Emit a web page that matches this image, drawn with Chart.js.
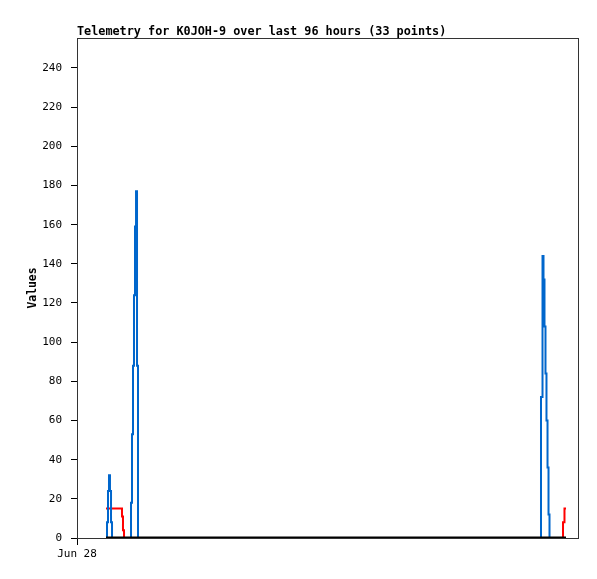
<!DOCTYPE html>
<html>
<head>
<meta charset="utf-8">
<script src="https://cdn.jsdelivr.net/npm/chart.js@4/dist/chart.umd.min.js"></script>
<style>
  body { margin: 0; background: #fff; }
  canvas { display: block; }
</style>
</head>
<body>
<canvas id="chart" width="597" height="579"></canvas>
<script>
// Sample times, hours since Jun 28 00:00
const hours = [5.56, 5.75, 5.94, 6.13, 6.32, 6.52, 6.71, 8.62, 8.81, 9.01,
    10.35, 10.54, 10.73, 10.92, 11.11, 11.31, 11.50, 11.69,
    30.0, 50.0, 70.0,
    88.91, 89.20, 89.39, 89.58, 89.77, 89.96, 90.16, 90.35, 90.54,
    93.13, 93.41, 93.70];
const blueValues = [0, 8, 24, 32, 24, 8, 0, 0, 0, 0,
    18, 53, 88, 124, 159, 177, 88, 0,
    0, 0, 0,
    72, 144, 132, 108, 84, 60, 36, 12, 0,
    0, 0, 0];
const redValues = [15, 15, 15, 15, 15, 15, 15, 11, 4, 0,
    0, 0, 0, 0, 0, 0, 0, 0,
    0, 0, 0,
    0, 0, 0, 0, 0, 0, 0, 0, 0,
    8, 15, 15];
const blackValues = hours.map(() => 0);
const yTicks = [0, 20, 40, 60, 80, 100, 120, 140, 160, 180, 200, 220, 240];
const xTicks = [0];
const xTickLabels = ['Jun 28'];

const FONT = '"DejaVu Sans Mono", monospace';

function toPoints(values) {
    return hours.map((h, i) => ({ x: h, y: values[i] }));
}

// Title and plot frame
const framePlugin = {
    id: 'frame',
    afterDraw(chart) {
        const { ctx, chartArea } = chart;
        ctx.save();
        ctx.strokeStyle = '#333';
        ctx.lineWidth = 1;
        ctx.strokeRect(chartArea.left + 0.5, chartArea.top + 0.5,
            chartArea.right - chartArea.left, chartArea.bottom - chartArea.top);
        ctx.fillStyle = '#000';
        ctx.font = 'bold 11.8px ' + FONT;
        ctx.textAlign = 'left';
        ctx.textBaseline = 'alphabetic';
        ctx.fillText('Telemetry for K0JOH-9 over last 96 hours (33 points)', chartArea.left, chartArea.top - 3);
        ctx.restore();
    }
};

new Chart(document.getElementById('chart'), {
    type: 'line',
    data: {
        datasets: [
            { data: toPoints(blackValues), borderColor: '#000', borderWidth: 3, order: 0 },
            { data: toPoints(blueValues), borderColor: '#0066cc', borderWidth: 2, order: 1 },
            { data: toPoints(redValues), borderColor: '#ff0000', borderWidth: 2, order: 2 }
        ]
    },
    options: {
        responsive: false,
        animation: false,
        layout: { padding: { top: 38, right: 19, left: 0, bottom: 0 } },
        elements: {
            point: { radius: 0 },
            line: { stepped: 'before', tension: 0, fill: false, borderCapStyle: 'butt' }
        },
        plugins: {
            legend: { display: false },
            tooltip: { enabled: false }
        },
        scales: {
            x: {
                type: 'linear',
                min: 0,
                max: 96,
                afterFit(scale) { scale.height = 41; },
                afterBuildTicks(scale) { scale.ticks = xTicks.map(v => ({ value: v })); },
                grid: { drawOnChartArea: false, color: '#000', tickLength: 7 },
                border: { color: '#000' },
                ticks: {
                    color: '#000',
                    font: { family: FONT, size: 11 },
                    padding: 3,
                    maxRotation: 0,
                    autoSkip: false,
                    callback: (v) => xTickLabels[xTicks.indexOf(v)]
                }
            },
            y: {
                min: 0,
                max: 255.3,
                afterFit(scale) { scale.width = 77; },
                afterBuildTicks(scale) { scale.ticks = yTicks.map(v => ({ value: v })); },
                grid: { drawOnChartArea: false, color: '#000', tickLength: 6 },
                border: { color: '#000' },
                ticks: {
                    color: '#000',
                    font: { family: FONT, size: 11 },
                    padding: 9
                },
                title: {
                    display: true,
                    text: 'Values',
                    color: '#000',
                    font: { family: FONT, size: 11.4, weight: 'bold' },
                    padding: { top: 26, bottom: 0 }
                }
            }
        }
    },
    plugins: [framePlugin]
});
</script>
</body>
</html>
